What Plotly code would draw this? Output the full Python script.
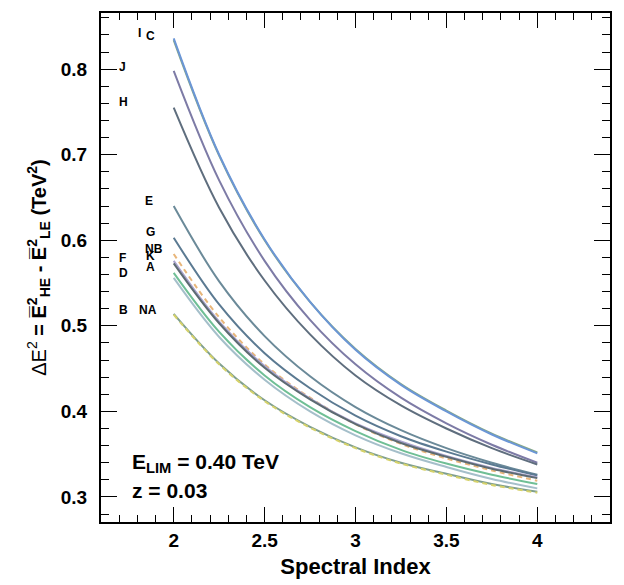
import plotly.graph_objects as go

# Spectral index grid
gamma = [2.0, 2.25, 2.5, 2.75, 3.0, 3.25, 3.5, 3.75, 4.0]

# Delta E^2 (TeV^2) per curve
curve_I  = [0.834, 0.699, 0.600, 0.528, 0.473, 0.432, 0.401, 0.374, 0.352]
curve_C  = [0.836, 0.700, 0.601, 0.528, 0.472, 0.431, 0.400, 0.373, 0.351]
curve_J  = [0.798, 0.670, 0.576, 0.507, 0.455, 0.416, 0.386, 0.361, 0.340]
curve_H  = [0.755, 0.638, 0.553, 0.490, 0.442, 0.407, 0.380, 0.357, 0.338]
curve_E  = [0.640, 0.552, 0.488, 0.441, 0.405, 0.378, 0.357, 0.340, 0.326]
curve_G  = [0.603, 0.525, 0.468, 0.427, 0.395, 0.371, 0.353, 0.338, 0.325]
curve_NB = [0.584, 0.510, 0.455, 0.416, 0.385, 0.362, 0.345, 0.331, 0.319]
curve_K  = [0.576, 0.505, 0.453, 0.415, 0.386, 0.365, 0.348, 0.334, 0.323]
curve_A  = [0.573, 0.503, 0.451, 0.414, 0.385, 0.363, 0.347, 0.333, 0.322]
curve_F  = [0.562, 0.493, 0.442, 0.405, 0.377, 0.355, 0.339, 0.326, 0.315]
curve_D  = [0.556, 0.487, 0.437, 0.400, 0.372, 0.351, 0.335, 0.321, 0.310]
curve_NA = [0.514, 0.456, 0.413, 0.382, 0.358, 0.340, 0.327, 0.315, 0.306]
curve_B  = [0.513, 0.455, 0.412, 0.381, 0.357, 0.339, 0.326, 0.314, 0.305]

curve_names = ["I", "C", "J", "H", "E", "G", "NB", "K", "A", "F", "D", "NA", "B"]
curve_values = [curve_I, curve_C, curve_J, curve_H, curve_E, curve_G, curve_NB,
                curve_K, curve_A, curve_F, curve_D, curve_NA, curve_B]

# Styles
curve_colors = ["#86a886", "#6b96d6", "#7d7ba6", "#5f6e7e", "#6b8a99", "#5b7a92",
                "#e8b67a", "#aaa4cf", "#5d6b72", "#6fbf95", "#a5bfca", "#7f9f8f", "#d6d26a"]
curve_dash = ["solid", "solid", "solid", "solid", "solid", "solid", "5px,4px",
              "solid", "solid", "solid", "solid", "solid", "5px,4px"]

# Labels placed to the left of the curve starts
label_text = ["I", "C", "J", "H", "E", "G", "NB", "K", "A", "F", "D", "B", "NA"]
label_x = [1.814, 1.870, 1.717, 1.723, 1.866, 1.870, 1.893, 1.870, 1.870, 1.717, 1.723, 1.723, 1.860]
label_y = [0.842, 0.839, 0.803, 0.762, 0.646, 0.610, 0.590, 0.582, 0.569, 0.579, 0.562, 0.519, 0.519]

FONT = "Liberation Sans, Arial, Helvetica, sans-serif"

fig = go.Figure()
for name, vals, col, dash in zip(curve_names, curve_values, curve_colors, curve_dash):
    fig.add_trace(go.Scatter(x=gamma, y=vals, mode="lines", name=name,
                             line=dict(color=col, width=2, dash=dash, shape="spline", smoothing=1.0),
                             showlegend=False, hoverinfo="skip"))

for t, lx, ly in zip(label_text, label_x, label_y):
    fig.add_annotation(x=lx, y=ly, text="<b>%s</b>" % t, showarrow=False,
                       font=dict(family=FONT, size=12, color="black"),
                       xanchor="center", yanchor="middle")

fig.add_annotation(x=1.762, y=0.340, xref="x", yref="y",
                   text="<b>E<sub>LIM</sub> = 0.40 TeV</b>", showarrow=False,
                   font=dict(family=FONT, size=21, color="black"),
                   xanchor="left", yanchor="middle")
fig.add_annotation(x=1.762, y=0.307, xref="x", yref="y",
                   text="<b>z = 0.03</b>", showarrow=False,
                   font=dict(family=FONT, size=21, color="black"),
                   xanchor="left", yanchor="middle")

# the page body adds an 8px offset, so margins are shifted accordingly
fig.update_layout(
    width=624, height=585,
    margin=dict(l=93, r=22, t=5, b=71, autoexpand=False),
    paper_bgcolor="white", plot_bgcolor="white",
    font=dict(family=FONT, color="black"),
)

fig.update_xaxes(
    range=[1.6, 4.4], tickmode="array", tickvals=[2, 2.5, 3, 3.5, 4],
    ticktext=["2", "2.5", "3", "3.5", "4"],
    ticks="inside", ticklen=15, tickwidth=1, tickcolor="black",
    minor=dict(dtick=0.1, tick0=0, ticks="inside", ticklen=7, tickcolor="black", tickwidth=1),
    showline=True, linecolor="black", linewidth=2, mirror="allticks",
    showgrid=False, zeroline=False, automargin=False,
    tickfont=dict(family=FONT, size=19, weight="bold"),
    title=dict(text="<b>Spectral Index</b>", font=dict(family=FONT, size=22), standoff=9),
)
fig.update_yaxes(
    range=[0.2707, 0.8657], tickmode="array", tickvals=[0.3, 0.4, 0.5, 0.6, 0.7, 0.8],
    ticktext=["0.3", "0.4", "0.5", "0.6", "0.7", "0.8"],
    ticks="inside", ticklen=16, tickwidth=1, tickcolor="black",
    minor=dict(dtick=0.02, tick0=0, ticks="inside", ticklen=8, tickcolor="black", tickwidth=1),
    showline=True, linecolor="black", linewidth=2, mirror="allticks",
    showgrid=False, zeroline=False, automargin=False,
    tickfont=dict(family=FONT, size=19, weight="bold"),
    ticklabelstandoff=8,
    title=dict(text="ΔE<sup>2</sup><b> = E̅<sup>2</sup><sub>HE</sub> - E̅<sup>2</sup><sub>LE</sub> (TeV<sup>2</sup>)</b>",
               font=dict(family=FONT, size=20), standoff=9),
)

fig.write_html("out.html")
